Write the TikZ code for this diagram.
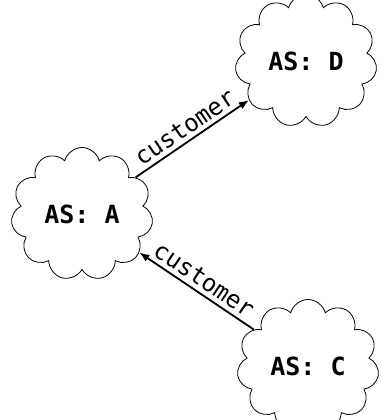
\documentclass[tikz,border=0pt]{standalone}
\usepackage{fontspec}
\setmonofont{DejaVu Sans Mono}
\usetikzlibrary{shapes.symbols,arrows.meta}

\begin{document}
\begin{tikzpicture}[
    x=1pt, y=-1pt,
    every node/.style={align=center},
    asCloud/.style={cloud, draw, line width=0.8pt, cloud puffs=11, cloud ignores aspect,
        minimum width=142pt, minimum height=133pt, inner sep=0pt,
        font=\ttfamily\bfseries\fontsize{25}{28}\selectfont},
    relEdge/.style={line width=1.8pt, -{Latex[length=10pt,width=8pt]}},
    relLabel/.style={sloped, above, inner sep=4pt, font=\ttfamily\fontsize{24}{27}\selectfont}
]
\useasboundingbox (0,0) rectangle (381,420);

% Nodes
\node[asCloud] (asD) at (306,61) {AS: D};
\node[asCloud] (asA) at (82,214) {AS: A};
\node[asCloud] (asC) at (308,366) {AS: C};

% Arrows
\draw[relEdge] (asA) -- node[relLabel] {customer} (asD);
\draw[relEdge] (asC) -- node[relLabel] {customer} (asA);

\end{tikzpicture}
\end{document}
